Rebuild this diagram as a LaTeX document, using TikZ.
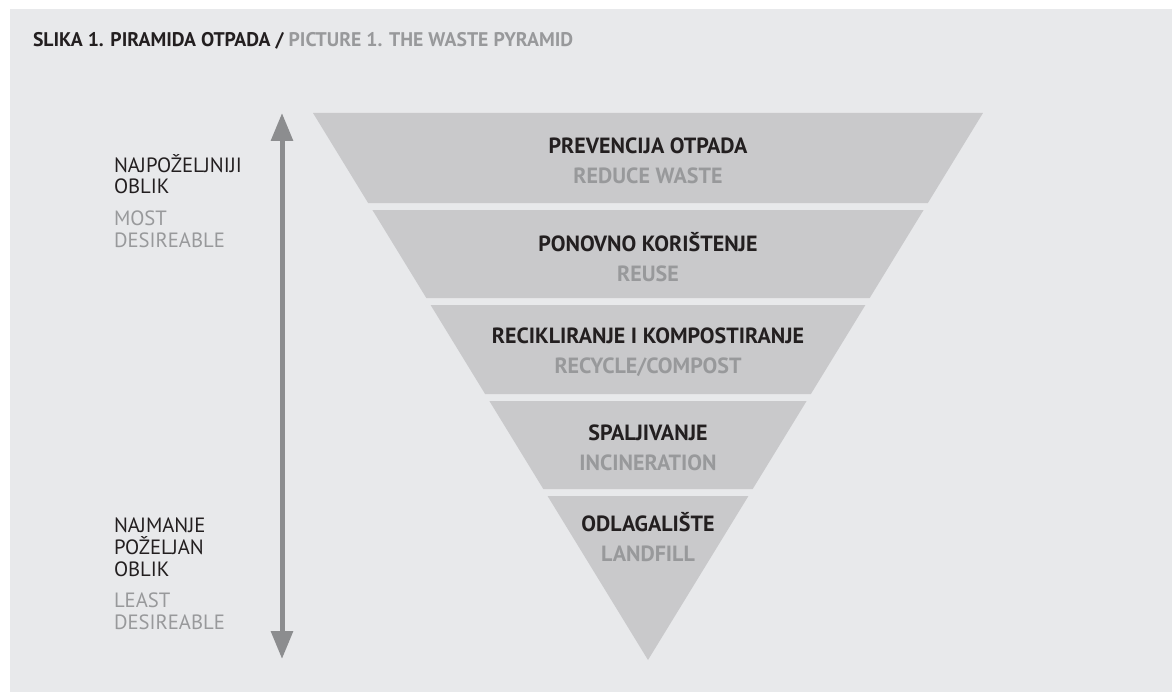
\documentclass[tikz,border=0pt]{standalone}
\usepackage{fontspec}
\setmainfont{PT Sans}
\usetikzlibrary{arrows.meta}
\definecolor{panel}{HTML}{E8E9EB}
\definecolor{bandfill}{HTML}{C9C9CB}
\definecolor{lightgrey}{HTML}{98999B}
\definecolor{ink}{HTML}{231F20}
\definecolor{arrowgrey}{HTML}{8C8D8F}

\begin{document}
\begin{tikzpicture}[x=0.75pt,y=-0.75pt,nodes={inner sep=0pt, outer sep=0pt, text=ink},
  stage/.style={align=center, font=\bfseries\fontsize{16.5}{22.5}\selectfont},
  sidelabel/.style={anchor=base west, align=left, font=\fontsize{15.5}{16.5}\selectfont},
  title/.style={anchor=base west, font=\bfseries\fontsize{14.8}{18}\selectfont}]

  % background panel
  \fill[white] (0,0) rectangle (1172,692);
  \fill[panel] (10,9) rectangle (1172,692);

  \node[title] (title) at (33,47) {SLIKA 1. PIRAMIDA OTPADA / \textcolor{lightgrey}{PICTURE 1. THE WASTE PYRAMID}};

  % pyramid bands
  \foreach \t/\b in {113/203, 210/298, 305/394, 401/489}
     \fill[bandfill] ({648-(660-\t)*0.6124},\t) -- ({648+(660-\t)*0.6124},\t)
        -- ({648+(660-\b)*0.6124},\b) -- ({648-(660-\b)*0.6124},\b) -- cycle;
  \fill[bandfill] ({648-(660-496)*0.6124},496) -- ({648+(660-496)*0.6124},496) -- (648,660) -- cycle;

  \node[stage] (prevencija) at (648,160.5) {PREVENCIJA OTPADA\\\textcolor{lightgrey}{REDUCE WASTE}};
  \node[stage] (koristenje) at (648,257) {PONOVNO KORIŠTENJE\\\textcolor{lightgrey}{REUSE}};
  \node[stage] (recikliranje) at (648,352) {RECIKLIRANJE I KOMPOSTIRANJE\\\textcolor{lightgrey}{RECYCLE/COMPOST}};
  \node[stage] (spaljivanje) at (648,448) {SPALJIVANJE\\\textcolor{lightgrey}{INCINERATION}};
  \node[stage] (odlagaliste) at (648,537.5) {ODLAGALIŠTE\\\textcolor{lightgrey}{LANDFILL}};

  % side labels (base = last line)
  \node[sidelabel] (najpozeljniji) at (114,194) {NAJPOŽELJNIJI\\OBLIK};
  \node[sidelabel, text=lightgrey] (most) at (114,247) {MOST\\DESIREABLE};
  \node[sidelabel] (najmanje) at (114,576) {NAJMANJE\\POŽELJAN\\OBLIK};
  \node[sidelabel, text=lightgrey] (least) at (114,629) {LEAST\\DESIREABLE};

  % preference arrow
  \coordinate (best) at (282,113);
  \coordinate (worst) at (282,659);
  \draw[arrowgrey, line width=3.75pt, {Triangle[length=21pt,width=16pt]}-{Triangle[length=21pt,width=16pt]}] (best) -- (worst);

\end{tikzpicture}
\end{document}
